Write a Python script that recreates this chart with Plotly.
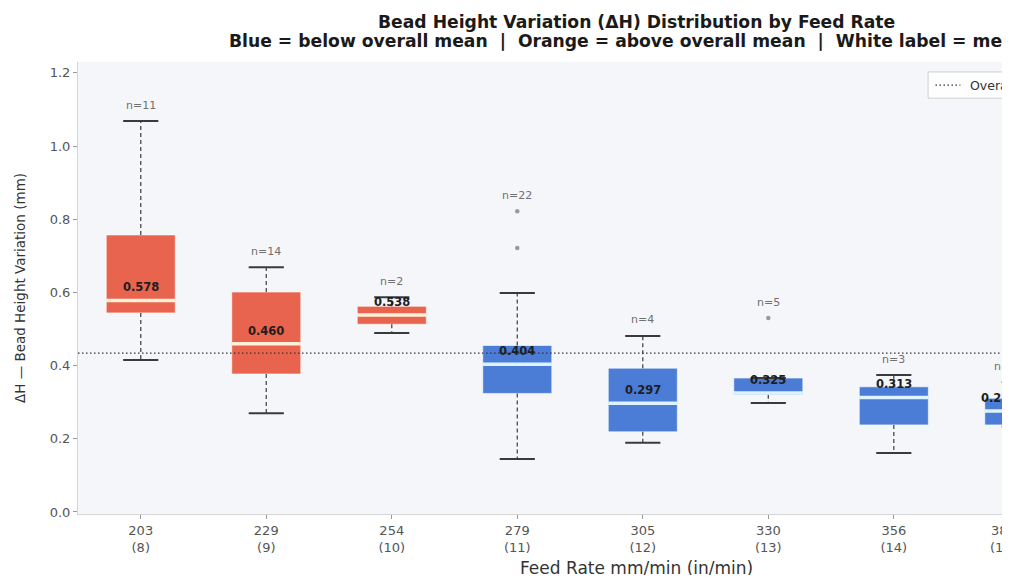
import plotly.graph_objects as go

# ---------------- data ----------------
feed_mm = ["203", "229", "254", "279", "305", "330", "356", "381"]
feed_in = ["8", "9", "10", "11", "12", "13", "14", "15"]
n_counts = [11, 14, 2, 22, 4, 5, 3, 6]
q1 = [0.544, 0.377, 0.513, 0.324, 0.219, 0.320, 0.238, 0.238]
medians = [0.578, 0.460, 0.538, 0.404, 0.297, 0.325, 0.313, 0.276]
q3 = [0.757, 0.601, 0.562, 0.455, 0.393, 0.366, 0.342, 0.311]
whisk_lo = [0.415, 0.270, 0.489, 0.145, 0.189, 0.298, 0.161, 0.232]
whisk_hi = [1.068, 0.669, 0.587, 0.598, 0.481, 0.366, 0.374, 0.355]
outliers = [[], [], [], [0.822, 0.721], [], [0.530], [], [0.101]]
overall_mean = 0.434

# ---------------- style ----------------
ORANGE = "#E8644F"
BLUE = "#4B7CD6"
MED_ORANGE = "#FFF0D8"
MED_BLUE = "#DDF3FF"
FONT = "DejaVu Sans"
BOX_W = 0.55
CAP_W = 0.28
X_RANGE = [-0.5, 6.862]
Y_RANGE = [-0.0055, 1.2295]

fig = go.Figure()

idx = list(range(len(feed_mm)))
above = [m > overall_mean for m in medians]

# boxes
for i in idx:
    fig.add_trace(go.Box(
        x=[i], q1=[q1[i]], median=[medians[i]], q3=[q3[i]],
        lowerfence=[q1[i]], upperfence=[q3[i]],
        width=BOX_W, whiskerwidth=0,
        fillcolor=ORANGE if above[i] else BLUE,
        line=dict(color="rgba(255,255,255,0.6)", width=1),
        boxpoints=False, showlegend=False, hoverinfo="skip",
    ))

# whiskers (dashed)
wx, wy = [], []
for i in idx:
    wx += [i, i, None, i, i, None]
    wy += [q3[i], whisk_hi[i], None, q1[i], whisk_lo[i], None]
fig.add_trace(go.Scatter(x=wx, y=wy, mode="lines",
                         line=dict(color="#4a4a4a", width=1.3, dash="4px,3px"),
                         showlegend=False, hoverinfo="skip"))

# caps
cx, cy = [], []
for i in idx:
    for v in (whisk_hi[i], whisk_lo[i]):
        cx += [i - CAP_W / 2, i + CAP_W / 2, None]
        cy += [v, v, None]
fig.add_trace(go.Scatter(x=cx, y=cy, mode="lines",
                         line=dict(color="#3a3a3a", width=2),
                         showlegend=False, hoverinfo="skip"))

# median lines
for i in idx:
    fig.add_trace(go.Scatter(
        x=[i - BOX_W / 2, i + BOX_W / 2], y=[medians[i], medians[i]],
        mode="lines",
        line=dict(color=MED_ORANGE if above[i] else MED_BLUE, width=3.5),
        showlegend=False, hoverinfo="skip"))

# outliers
ox, oy = [], []
for i in idx:
    for v in outliers[i]:
        ox.append(i)
        oy.append(v)
fig.add_trace(go.Scatter(x=ox, y=oy, mode="markers",
                         marker=dict(color="#9a9a9a", size=4.5),
                         showlegend=False, hoverinfo="skip"))

# overall mean line
fig.add_trace(go.Scatter(x=[-0.5, len(feed_mm) + 0.5], y=[overall_mean, overall_mean],
                         mode="lines",
                         line=dict(color="#333333", width=1.3, dash="1.5px,2.5px"),
                         showlegend=False, hoverinfo="skip"))


def paper_x(v):
    return (v - X_RANGE[0]) / (X_RANGE[1] - X_RANGE[0])


annotations = []
for i in idx:
    top = max([whisk_hi[i]] + outliers[i])
    inside = X_RANGE[0] <= i <= X_RANGE[1]
    xref = "x" if inside else "paper"
    xv = i if inside else paper_x(i)
    annotations.append(dict(x=xv, xref=xref, y=top, yref="y", yshift=16,
                            text=f"n={n_counts[i]}", showarrow=False,
                            font=dict(family=FONT, size=11, color="#707070")))
    annotations.append(dict(x=xv, xref=xref, y=medians[i], yref="y", yshift=13,
                            text=f"<b>{medians[i]:.3f}</b>", showarrow=False,
                            font=dict(family=FONT, size=11.5, color="#1e1e1e")))
    if not inside:
        annotations.append(dict(x=xv, xref="paper", y=0, yref="paper", yanchor="top",
                                yshift=-7,
                                text=f"{feed_mm[i]}<br>({feed_in[i]})", showarrow=False,
                                font=dict(family=FONT, size=13, color="#555555")))

# two-line title, centred on the full (uncropped) axes
annotations.append(dict(x=0.604, xref="paper", y=1.0885, yref="paper", yanchor="middle",
                        text="<b>Bead Height Variation (ΔH) Distribution by Feed Rate</b>",
                        showarrow=False, font=dict(family=FONT, size=17.2, color="#1a1a1a")))
annotations.append(dict(x=0.604, xref="paper", y=1.0465, yref="paper", yanchor="middle",
                        text="<b>Blue = below overall mean  |  Orange = above overall mean  |  White label = median</b>",
                        showarrow=False, font=dict(family=FONT, size=17.2, color="#1a1a1a")))

# x-axis title (centred on the full axes)
annotations.append(dict(x=0.604, xref="paper", y=-0.119, yref="paper", yanchor="middle",
                        text="Feed Rate mm/min (in/min)", showarrow=False,
                        font=dict(family=FONT, size=17, color="#333333")))

# legend (cropped at right edge, as in the reference)
annotations.append(dict(x=0.963, xref="paper", y=0.949, yref="paper",
                        xanchor="left", yanchor="middle",
                        text=f"Overall mean ΔH = {overall_mean:.3f} mm", showarrow=False,
                        font=dict(family=FONT, size=12.5, color="#333333")))
shapes = [
    dict(type="rect", xref="paper", yref="paper", x0=0.920, x1=1.3, y0=0.92, y1=0.978,
         fillcolor="rgba(255,255,255,0.85)", line=dict(color="#d0d0d0", width=1), layer="above"),
    dict(type="line", xref="paper", yref="paper", x0=0.928, x1=0.955, y0=0.949, y1=0.949,
         line=dict(color="#333333", width=1.3, dash="1.5px,2.5px"), layer="above"),
]

fig.update_layout(
    width=994, height=567, autosize=False,
    margin=dict(l=70, r=0, t=54, b=61),
    paper_bgcolor="white", plot_bgcolor="#f4f6fa",
    font=dict(family=FONT, color="#333333"),
    xaxis=dict(range=X_RANGE, tickvals=idx,
               ticktext=[f"{a}<br>({b})" for a, b in zip(feed_mm, feed_in)],
               ticks="outside", ticklen=4, tickcolor="#999999",
               tickfont=dict(family=FONT, size=13, color="#555555"),
               showline=True, linecolor="#d5d5d5", showgrid=False, zeroline=False,
               automargin=False),
    yaxis=dict(range=Y_RANGE, tickvals=[0, 0.2, 0.4, 0.6, 0.8, 1.0, 1.2], tickformat=".1f",
               ticks="outside", ticklen=4, tickcolor="#999999",
               tickfont=dict(family=FONT, size=13, color="#555555"),
               showline=True, linecolor="#d5d5d5", showgrid=False, zeroline=False,
               automargin=False,
               title=dict(text="ΔH — Bead Height Variation (mm)", standoff=20,
                          font=dict(family=FONT, size=13.5, color="#333333"))),
    annotations=annotations, shapes=shapes, showlegend=False,
)

fig.write_html("out.html")
